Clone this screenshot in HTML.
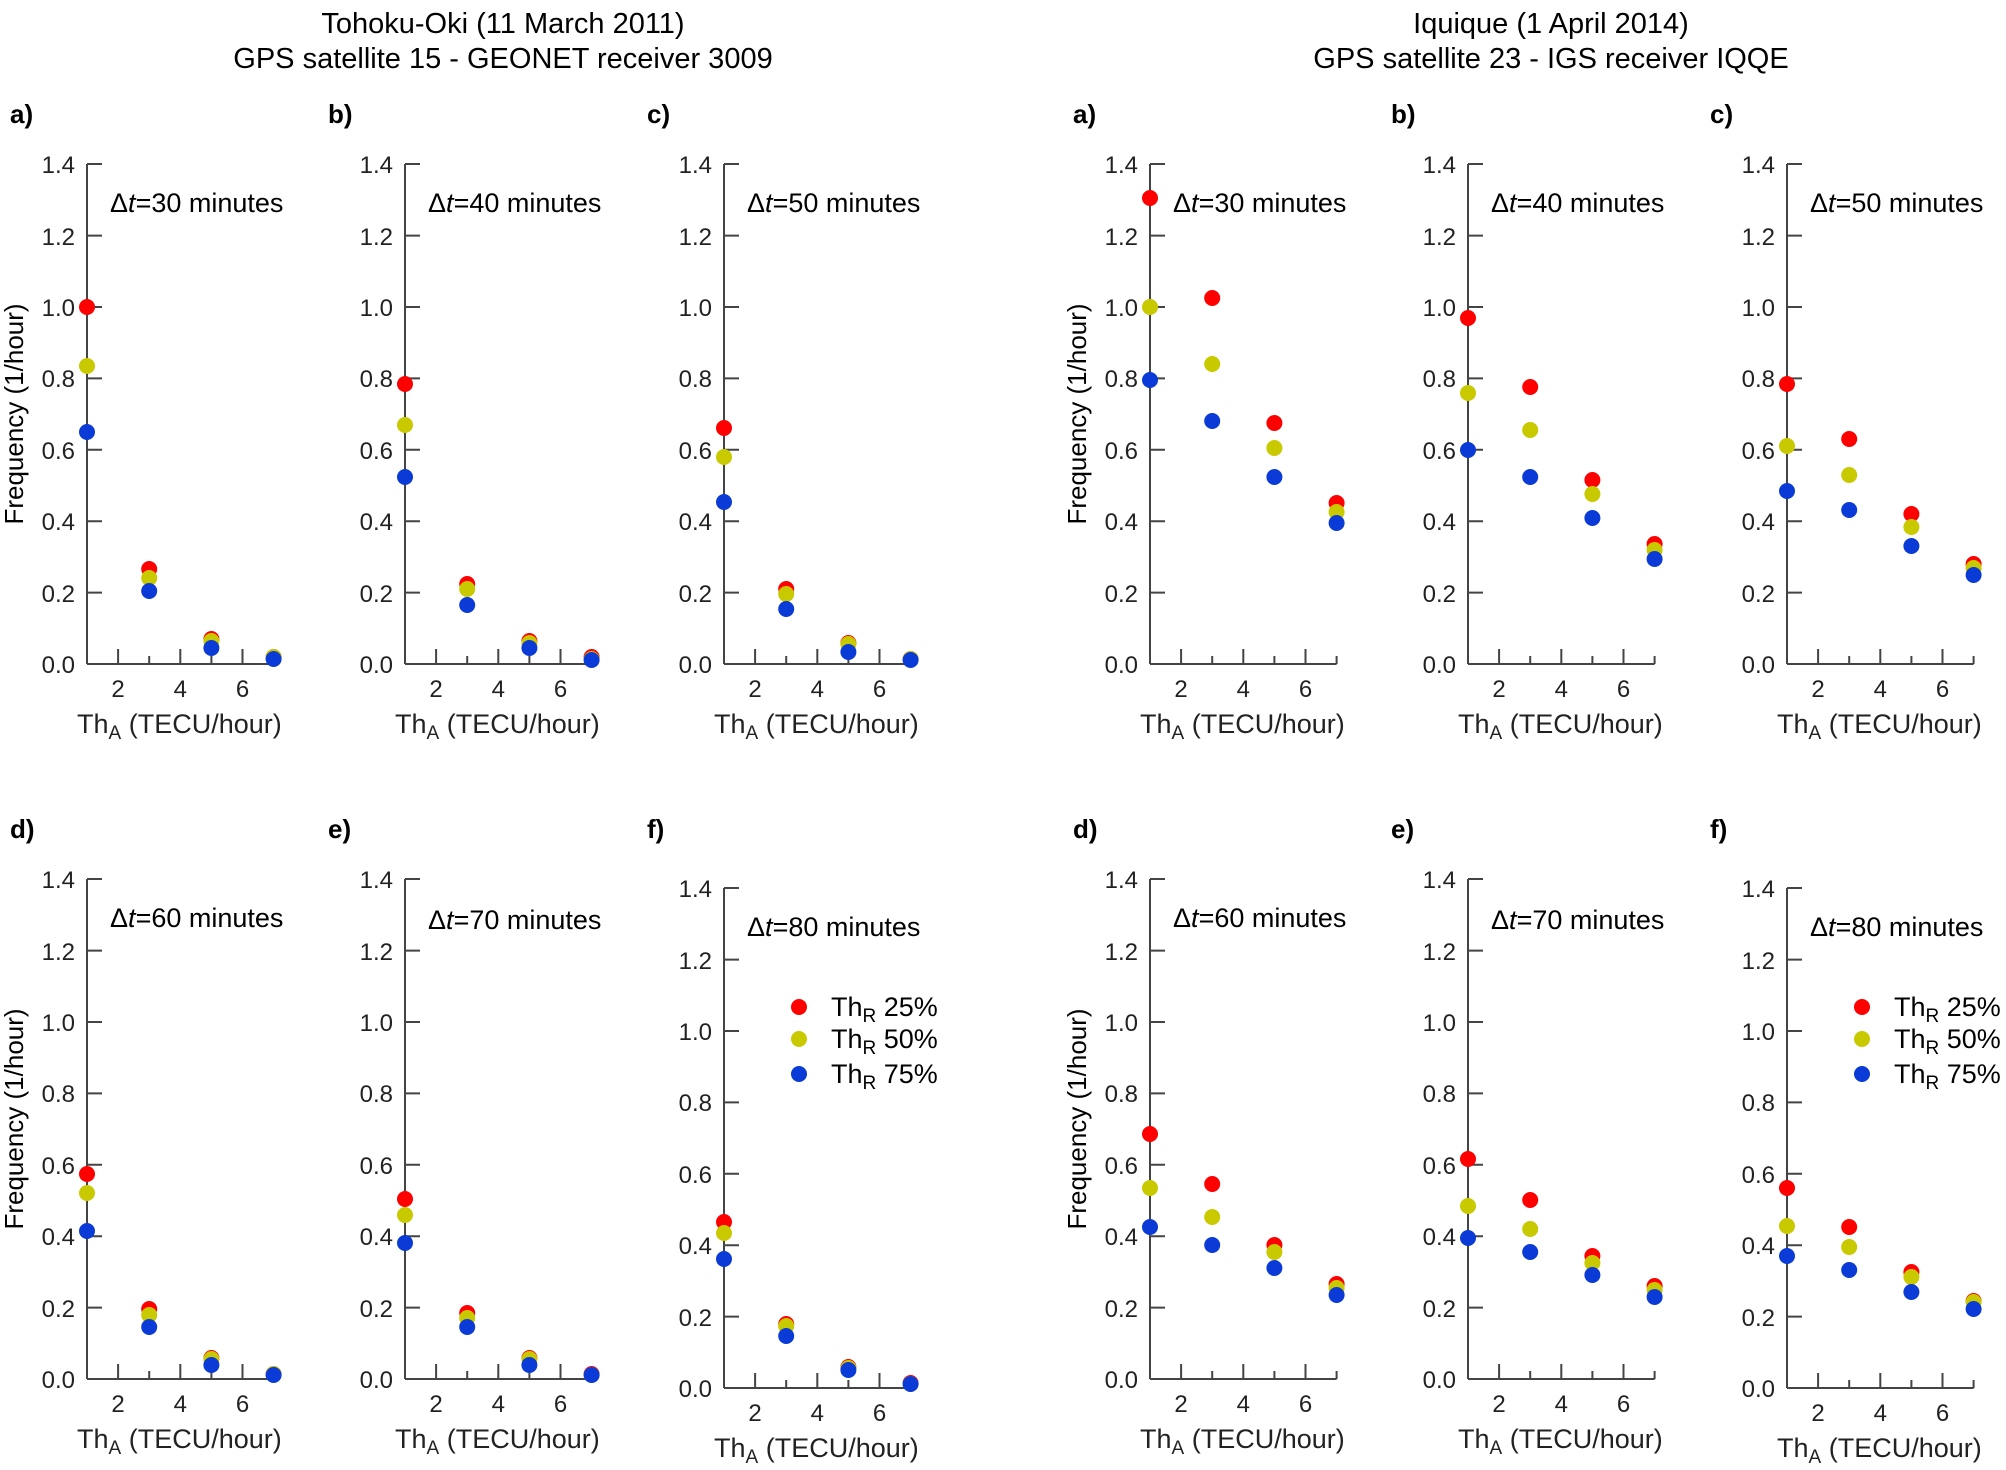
<!DOCTYPE html>
<html><head><meta charset="utf-8"><style>
html,body{margin:0;padding:0;background:#fff}
svg{display:block;font-family:"Liberation Sans",Arial,sans-serif}
.r{fill:#f00}.y{fill:#c9c900}.b{fill:#0b3bd6}
.t{font-size:24px;fill:#222}
.yl{text-anchor:end}
.xl{text-anchor:middle}
.lb{font-size:26px;font-weight:bold}
.dt{font-size:27px}
.al{font-size:27px}
.fl{font-size:26px}
.ttl{font-size:29px;text-anchor:middle}
</style></head><body>
<svg width="2006" height="1470" viewBox="0 0 2006 1470" xmlns="http://www.w3.org/2000/svg">
<defs>
<g id="ax" stroke="#444" stroke-width="2" fill="none">
<path d="M0,0V-500M0,0H186.6M0,-71.4h15M0,-142.8h15M0,-214.2h15M0,-285.6h15M0,-357h15M0,-428.4h15M0,-500h15M31.1,0v-15M93.3,0v-15M155.5,0v-15M62.2,0v-8M124.4,0v-8M186.6,0v-8"/>
</g>
<g id="tk" class="t">
<text x="-12" y="9" class="yl">0.0</text>
<text x="-12" y="-62" class="yl">0.2</text>
<text x="-12" y="-134" class="yl">0.4</text>
<text x="-12" y="-205" class="yl">0.6</text>
<text x="-12" y="-277" class="yl">0.8</text>
<text x="-12" y="-348" class="yl">1.0</text>
<text x="-12" y="-419" class="yl">1.2</text>
<text x="-12" y="-491" class="yl">1.4</text>
<text x="31.1" y="33" class="xl">2</text>
<text x="93.3" y="33" class="xl">4</text>
<text x="155.5" y="33" class="xl">6</text>
<text x="-10" y="69" class="al">Th<tspan font-size="19" dy="6">A</tspan><tspan dy="-6">  (TECU/hour)</tspan></text>
</g>
</defs>

<text x="503" y="33" class="ttl">Tohoku-Oki (11 March 2011)</text>
<text x="503" y="68" class="ttl">GPS satellite 15 - GEONET receiver 3009</text>
<text x="1551" y="33" class="ttl">Iquique (1 April 2014)</text>
<text x="1551" y="68" class="ttl">GPS satellite 23 - IGS receiver IQQE</text>

<!-- Tohoku top row -->
<g transform="translate(87,664)"><use href="#ax"/><use href="#tk"/>
<text x="-77" y="-541" class="lb">a)</text>
<text x="23" y="-452" class="dt">Δ<tspan font-style="italic">t</tspan>=30 minutes</text>
<text transform="translate(-64,-250) rotate(-90)" class="fl" text-anchor="middle">Frequency (1/hour)</text>
<circle r="8" class="r" cx="0" cy="-357"/><circle r="8" class="y" cx="0" cy="-298"/><circle r="8" class="b" cx="0" cy="-232"/>
<circle r="8" class="r" cx="62.2" cy="-95"/><circle r="8" class="y" cx="62.2" cy="-86"/><circle r="8" class="b" cx="62.2" cy="-73"/>
<circle r="8" class="r" cx="124.4" cy="-25"/><circle r="8" class="y" cx="124.4" cy="-23"/><circle r="8" class="b" cx="124.4" cy="-16"/>
<circle r="8" class="r" cx="186.6" cy="-7"/><circle r="8" class="y" cx="186.6" cy="-7"/><circle r="8" class="b" cx="186.6" cy="-5"/>
</g>
<g transform="translate(405,664)"><use href="#ax"/><use href="#tk"/>
<text x="-77" y="-541" class="lb">b)</text>
<text x="23" y="-452" class="dt">Δ<tspan font-style="italic">t</tspan>=40 minutes</text>
<circle r="8" class="r" cx="0" cy="-280"/><circle r="8" class="y" cx="0" cy="-239"/><circle r="8" class="b" cx="0" cy="-187"/>
<circle r="8" class="r" cx="62.2" cy="-80"/><circle r="8" class="y" cx="62.2" cy="-75"/><circle r="8" class="b" cx="62.2" cy="-59"/>
<circle r="8" class="r" cx="124.4" cy="-23"/><circle r="8" class="y" cx="124.4" cy="-21"/><circle r="8" class="b" cx="124.4" cy="-16"/>
<circle r="8" class="r" cx="186.6" cy="-7"/><circle r="8" class="y" cx="186.6" cy="-5"/><circle r="8" class="b" cx="186.6" cy="-4"/>
</g>
<g transform="translate(724,664)"><use href="#ax"/><use href="#tk"/>
<text x="-77" y="-541" class="lb">c)</text>
<text x="23" y="-452" class="dt">Δ<tspan font-style="italic">t</tspan>=50 minutes</text>
<circle r="8" class="r" cx="0" cy="-236"/><circle r="8" class="y" cx="0" cy="-207"/><circle r="8" class="b" cx="0" cy="-162"/>
<circle r="8" class="r" cx="62.2" cy="-75"/><circle r="8" class="y" cx="62.2" cy="-70"/><circle r="8" class="b" cx="62.2" cy="-55"/>
<circle r="8" class="r" cx="124.4" cy="-21"/><circle r="8" class="y" cx="124.4" cy="-20"/><circle r="8" class="b" cx="124.4" cy="-12"/>
<circle r="8" class="r" cx="186.6" cy="-5"/><circle r="8" class="y" cx="186.6" cy="-5"/><circle r="8" class="b" cx="186.6" cy="-4"/>
</g>

<!-- Tohoku bottom row -->
<g transform="translate(87,1379)"><use href="#ax"/><use href="#tk"/>
<text x="-77" y="-541" class="lb">d)</text>
<text x="23" y="-452" class="dt">Δ<tspan font-style="italic">t</tspan>=60 minutes</text>
<text transform="translate(-64,-260) rotate(-90)" class="fl" text-anchor="middle">Frequency (1/hour)</text>
<circle r="8" class="r" cx="0" cy="-205"/><circle r="8" class="y" cx="0" cy="-186"/><circle r="8" class="b" cx="0" cy="-148"/>
<circle r="8" class="r" cx="62.2" cy="-70"/><circle r="8" class="y" cx="62.2" cy="-64"/><circle r="8" class="b" cx="62.2" cy="-52"/>
<circle r="8" class="r" cx="124.4" cy="-21"/><circle r="8" class="y" cx="124.4" cy="-20"/><circle r="8" class="b" cx="124.4" cy="-14"/>
<circle r="8" class="r" cx="186.6" cy="-5"/><circle r="8" class="y" cx="186.6" cy="-5"/><circle r="8" class="b" cx="186.6" cy="-4"/>
</g>
<g transform="translate(405,1379)"><use href="#ax"/><use href="#tk"/>
<text x="-77" y="-541" class="lb">e)</text>
<text x="23" y="-450" class="dt">Δ<tspan font-style="italic">t</tspan>=70 minutes</text>
<circle r="8" class="r" cx="0" cy="-180"/><circle r="8" class="y" cx="0" cy="-164"/><circle r="8" class="b" cx="0" cy="-136"/>
<circle r="8" class="r" cx="62.2" cy="-66"/><circle r="8" class="y" cx="62.2" cy="-61"/><circle r="8" class="b" cx="62.2" cy="-52"/>
<circle r="8" class="r" cx="124.4" cy="-21"/><circle r="8" class="y" cx="124.4" cy="-20"/><circle r="8" class="b" cx="124.4" cy="-14"/>
<circle r="8" class="r" cx="186.6" cy="-5"/><circle r="8" class="y" cx="186.6" cy="-4"/><circle r="8" class="b" cx="186.6" cy="-4"/>
</g>
<g transform="translate(724,1388)"><use href="#ax"/><use href="#tk"/>
<text x="-77" y="-550" class="lb">f)</text>
<text x="23" y="-452" class="dt">Δ<tspan font-style="italic">t</tspan>=80 minutes</text>
<circle r="8" class="r" cx="75" cy="-381"/><circle r="8" class="y" cx="75" cy="-349"/><circle r="8" class="b" cx="75" cy="-314"/>
<text x="107" y="-372" class="dt">Th<tspan font-size="19" dy="6">R</tspan><tspan dy="-6"> 25%</tspan></text>
<text x="107" y="-340" class="dt">Th<tspan font-size="19" dy="6">R</tspan><tspan dy="-6"> 50%</tspan></text>
<text x="107" y="-305" class="dt">Th<tspan font-size="19" dy="6">R</tspan><tspan dy="-6"> 75%</tspan></text>
<circle r="8" class="r" cx="0" cy="-166"/><circle r="8" class="y" cx="0" cy="-155"/><circle r="8" class="b" cx="0" cy="-129"/>
<circle r="8" class="r" cx="62.2" cy="-64"/><circle r="8" class="y" cx="62.2" cy="-62"/><circle r="8" class="b" cx="62.2" cy="-52"/>
<circle r="8" class="r" cx="124.4" cy="-21"/><circle r="8" class="y" cx="124.4" cy="-20"/><circle r="8" class="b" cx="124.4" cy="-18"/>
<circle r="8" class="r" cx="186.6" cy="-5"/><circle r="8" class="y" cx="186.6" cy="-4"/><circle r="8" class="b" cx="186.6" cy="-4"/>
</g>

<!-- Iquique top row -->
<g transform="translate(1150,664)"><use href="#ax"/><use href="#tk"/>
<text x="-77" y="-541" class="lb">a)</text>
<text x="23" y="-452" class="dt">Δ<tspan font-style="italic">t</tspan>=30 minutes</text>
<text transform="translate(-64,-250) rotate(-90)" class="fl" text-anchor="middle">Frequency (1/hour)</text>
<circle r="8" class="r" cx="0" cy="-466"/><circle r="8" class="y" cx="0" cy="-357"/><circle r="8" class="b" cx="0" cy="-284"/>
<circle r="8" class="r" cx="62.2" cy="-366"/><circle r="8" class="y" cx="62.2" cy="-300"/><circle r="8" class="b" cx="62.2" cy="-243"/>
<circle r="8" class="r" cx="124.4" cy="-241"/><circle r="8" class="y" cx="124.4" cy="-216"/><circle r="8" class="b" cx="124.4" cy="-187"/>
<circle r="8" class="r" cx="186.6" cy="-161"/><circle r="8" class="y" cx="186.6" cy="-152"/><circle r="8" class="b" cx="186.6" cy="-141"/>
</g>
<g transform="translate(1468,664)"><use href="#ax"/><use href="#tk"/>
<text x="-77" y="-541" class="lb">b)</text>
<text x="23" y="-452" class="dt">Δ<tspan font-style="italic">t</tspan>=40 minutes</text>
<circle r="8" class="r" cx="0" cy="-346"/><circle r="8" class="y" cx="0" cy="-271"/><circle r="8" class="b" cx="0" cy="-214"/>
<circle r="8" class="r" cx="62.2" cy="-277"/><circle r="8" class="y" cx="62.2" cy="-234"/><circle r="8" class="b" cx="62.2" cy="-187"/>
<circle r="8" class="r" cx="124.4" cy="-184"/><circle r="8" class="y" cx="124.4" cy="-170"/><circle r="8" class="b" cx="124.4" cy="-146"/>
<circle r="8" class="r" cx="186.6" cy="-120"/><circle r="8" class="y" cx="186.6" cy="-114"/><circle r="8" class="b" cx="186.6" cy="-105"/>
</g>
<g transform="translate(1787,664)"><use href="#ax"/><use href="#tk"/>
<text x="-77" y="-541" class="lb">c)</text>
<text x="23" y="-452" class="dt">Δ<tspan font-style="italic">t</tspan>=50 minutes</text>
<circle r="8" class="r" cx="0" cy="-280"/><circle r="8" class="y" cx="0" cy="-218"/><circle r="8" class="b" cx="0" cy="-173"/>
<circle r="8" class="r" cx="62.2" cy="-225"/><circle r="8" class="y" cx="62.2" cy="-189"/><circle r="8" class="b" cx="62.2" cy="-154"/>
<circle r="8" class="r" cx="124.4" cy="-150"/><circle r="8" class="y" cx="124.4" cy="-137"/><circle r="8" class="b" cx="124.4" cy="-118"/>
<circle r="8" class="r" cx="186.6" cy="-100"/><circle r="8" class="y" cx="186.6" cy="-96"/><circle r="8" class="b" cx="186.6" cy="-89"/>
</g>

<!-- Iquique bottom row -->
<g transform="translate(1150,1379)"><use href="#ax"/><use href="#tk"/>
<text x="-77" y="-541" class="lb">d)</text>
<text x="23" y="-452" class="dt">Δ<tspan font-style="italic">t</tspan>=60 minutes</text>
<text transform="translate(-64,-260) rotate(-90)" class="fl" text-anchor="middle">Frequency (1/hour)</text>
<circle r="8" class="r" cx="0" cy="-245"/><circle r="8" class="y" cx="0" cy="-191"/><circle r="8" class="b" cx="0" cy="-152"/>
<circle r="8" class="r" cx="62.2" cy="-195"/><circle r="8" class="y" cx="62.2" cy="-162"/><circle r="8" class="b" cx="62.2" cy="-134"/>
<circle r="8" class="r" cx="124.4" cy="-134"/><circle r="8" class="y" cx="124.4" cy="-127"/><circle r="8" class="b" cx="124.4" cy="-111"/>
<circle r="8" class="r" cx="186.6" cy="-95"/><circle r="8" class="y" cx="186.6" cy="-91"/><circle r="8" class="b" cx="186.6" cy="-84"/>
</g>
<g transform="translate(1468,1379)"><use href="#ax"/><use href="#tk"/>
<text x="-77" y="-541" class="lb">e)</text>
<text x="23" y="-450" class="dt">Δ<tspan font-style="italic">t</tspan>=70 minutes</text>
<circle r="8" class="r" cx="0" cy="-220"/><circle r="8" class="y" cx="0" cy="-173"/><circle r="8" class="b" cx="0" cy="-141"/>
<circle r="8" class="r" cx="62.2" cy="-179"/><circle r="8" class="y" cx="62.2" cy="-150"/><circle r="8" class="b" cx="62.2" cy="-127"/>
<circle r="8" class="r" cx="124.4" cy="-123"/><circle r="8" class="y" cx="124.4" cy="-116"/><circle r="8" class="b" cx="124.4" cy="-104"/>
<circle r="8" class="r" cx="186.6" cy="-93"/><circle r="8" class="y" cx="186.6" cy="-89"/><circle r="8" class="b" cx="186.6" cy="-82"/>
</g>
<g transform="translate(1787,1388)"><use href="#ax"/><use href="#tk"/>
<text x="-77" y="-550" class="lb">f)</text>
<text x="23" y="-452" class="dt">Δ<tspan font-style="italic">t</tspan>=80 minutes</text>
<circle r="8" class="r" cx="75" cy="-381"/><circle r="8" class="y" cx="75" cy="-349"/><circle r="8" class="b" cx="75" cy="-314"/>
<text x="107" y="-372" class="dt">Th<tspan font-size="19" dy="6">R</tspan><tspan dy="-6"> 25%</tspan></text>
<text x="107" y="-340" class="dt">Th<tspan font-size="19" dy="6">R</tspan><tspan dy="-6"> 50%</tspan></text>
<text x="107" y="-305" class="dt">Th<tspan font-size="19" dy="6">R</tspan><tspan dy="-6"> 75%</tspan></text>
<circle r="8" class="r" cx="0" cy="-200"/><circle r="8" class="y" cx="0" cy="-162"/><circle r="8" class="b" cx="0" cy="-132"/>
<circle r="8" class="r" cx="62.2" cy="-161"/><circle r="8" class="y" cx="62.2" cy="-141"/><circle r="8" class="b" cx="62.2" cy="-118"/>
<circle r="8" class="r" cx="124.4" cy="-116"/><circle r="8" class="y" cx="124.4" cy="-111"/><circle r="8" class="b" cx="124.4" cy="-96"/>
<circle r="8" class="r" cx="186.6" cy="-87"/><circle r="8" class="y" cx="186.6" cy="-86"/><circle r="8" class="b" cx="186.6" cy="-79"/>
</g>
</svg>
</body></html>
